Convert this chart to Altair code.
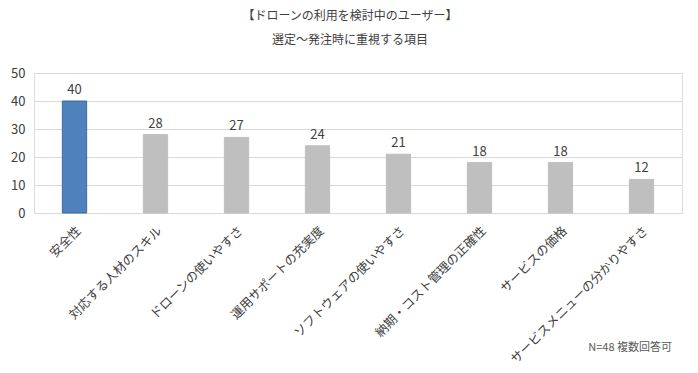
import altair as alt
import pandas as pd

categories = ["安全性", "対応する人材のスキル", "ドローンの使いやすさ", "運用サポートの充実度",
              "ソフトウェアの使いやすさ", "納期・コスト管理の正確性", "サービスの価格",
              "サービスメニューの分かりやすさ"]
values = [40, 28, 27, 24, 21, 18, 18, 12]
groups = ["hl", "o", "o", "o", "o", "o", "o", "o"]
y_ticks = [0, 10, 20, 30, 40, 50]

df = pd.DataFrame({"item": categories, "value": values, "grp": groups})
FONT = "Noto Sans CJK JP"

base = alt.Chart(df).encode(
    x=alt.X("item:N", sort=categories, title=None,
            scale=alt.Scale(paddingInner=0.7, paddingOuter=0.35),
            axis=alt.Axis(labelAngle=-45, labelFontSize=12.5, labelColor="#404040",
                          labelFont=FONT, ticks=False, domainColor="#D9D9D9",
                          labelPadding=11, labelLimit=300)),
    y=alt.Y("value:Q", title=None,
            scale=alt.Scale(domain=[0, 50], nice=False),
            axis=alt.Axis(values=y_ticks, tickCount=6, labelOverlap=False, ticks=False, domain=False,
                          gridColor="#D9D9D9", labelFontSize=13, labelColor="#404040",
                          labelFont=FONT, labelPadding=9)),
)

bars = base.mark_bar(strokeWidth=1).encode(
    color=alt.Color("grp:N", scale=alt.Scale(domain=["hl", "o"], range=["#4F81BD", "#BFBFBF"]), legend=None),
    stroke=alt.Stroke("grp:N", scale=alt.Scale(domain=["hl", "o"], range=["#3A6A9F", "#BFBFBF"]), legend=None),
)

labels = base.mark_text(dy=-11, fontSize=13, color="#404040", font=FONT).encode(
    text="value:Q"
)

note = alt.Chart(pd.DataFrame({"t": ["N=48 複数回答可"]})).mark_text(
    align="right", baseline="middle", fontSize=11, color="#595959", font=FONT
).encode(x=alt.value(638), y=alt.value(275), text="t:N")

chart = alt.layer(bars, labels, note).properties(
    width=648, height=140,
    padding={"left": 2, "top": 2, "right": 5, "bottom": 0},
    title=alt.TitleParams(
        text="【ドローンの利用を検討中のユーザー】",
        subtitle="選定～発注時に重視する項目",
        font=FONT, subtitleFont=FONT, fontSize=12, subtitleFontSize=12,
        fontWeight=400, color="#404040", subtitleColor="#404040",
        anchor="middle", subtitlePadding=12, offset=20, dx=-8,
    ),
).configure_view(stroke=None).configure_title(fontWeight=400).configure(background="white")

chart.save("out.html", embed_options={"renderer": "svg", "actions": False})
